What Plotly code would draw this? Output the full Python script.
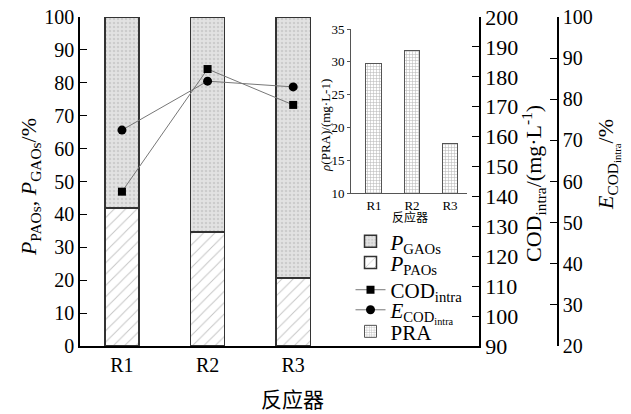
import plotly.graph_objects as go

reactors = ["R1", "R2", "R3"]
p_paos = [42.0, 34.7, 20.7]
p_gaos = [58.0, 65.3, 79.3]
cod_intra = [141.6, 182.6, 170.6]
e_cod_intra = [72.5, 84.4, 83.0]
pra = [29.8, 31.7, 17.6]

FONT = "Liberation Serif, Noto Sans CJK SC, serif"

fig = go.Figure()

fig.add_trace(go.Bar(
    x=reactors, y=p_paos, name="<i>P</i><sub>PAOs</sub>", legend="legend2",
    width=0.4,
    marker=dict(color="white", line=dict(color="#333", width=1.5),
                pattern=dict(shape="/", fgcolor="#8a8a8a", bgcolor="white", size=8, solidity=0.12)),
    xaxis="x", yaxis="y"))
fig.add_trace(go.Bar(
    x=reactors, y=p_gaos, name="<i>P</i><sub>GAOs</sub>", legend="legend",
    width=0.4,
    marker=dict(color="#dcdcdc", line=dict(color="#333", width=1.5),
                pattern=dict(shape=".", fgcolor="#b5b5b5", bgcolor="#e2e2e2", size=4, solidity=0.3)),
    xaxis="x", yaxis="y"))
fig.add_trace(go.Scatter(
    x=reactors, y=cod_intra, name="COD<sub>intra</sub>", legend="legend3",
    mode="lines+markers", line=dict(color="#777", width=1),
    marker=dict(symbol="square", size=8, color="black"),
    xaxis="x", yaxis="y2"))
fig.add_trace(go.Scatter(
    x=reactors, y=e_cod_intra, name="<i>E</i><sub>COD<sub>intra</sub></sub>", legend="legend4",
    mode="lines+markers", line=dict(color="#777", width=1),
    marker=dict(symbol="circle", size=9, color="black"),
    xaxis="x", yaxis="y3"))
fig.add_trace(go.Bar(
    x=reactors, y=pra, name="PRA", legend="legend5", width=0.42,
    marker=dict(color="white", line=dict(color="#555", width=1),
                pattern=dict(shape="+", fgcolor="#777", bgcolor="white", size=3, solidity=0.35)),
    xaxis="x4", yaxis="y4"))

def leg(y):
    return dict(x=0.5, y=y, xanchor="left", yanchor="middle",
                font=dict(size=21, family=FONT), bgcolor="rgba(0,0,0,0)",
                itemwidth=30, borderwidth=0)

fig.update_layout(
    width=631, height=414,
    margin=dict(l=80, r=10, t=17, b=68, autoexpand=False),
    paper_bgcolor="white", plot_bgcolor="rgba(0,0,0,0)",
    barmode="stack",
    font=dict(family=FONT, color="black", size=20),
    showlegend=True,
    legend=leg(0.317),
    legend2=leg(0.253),
    legend3=leg(0.170),
    legend4=leg(0.109),
    legend5=leg(0.0435),
    xaxis=dict(domain=[0, 0.7375], range=[-0.49, 4.17], type="category",
               showline=True, linecolor="black", linewidth=1.5, ticks="",
               tickfont=dict(size=20), showgrid=False, zeroline=False),
    yaxis=dict(range=[0, 100], dtick=10, showline=True, linecolor="black", linewidth=1.5,
               ticks="inside", ticklen=7, tickcolor="black", tickfont=dict(size=20),
               showgrid=False, zeroline=False),
    yaxis2=dict(range=[90, 200], dtick=10, overlaying="y", side="right", anchor="x",
                showline=True, linecolor="black", linewidth=1.5,
                ticks="inside", ticklen=7, tickcolor="black", tickfont=dict(size=22),
                showgrid=False, zeroline=False),
    yaxis3=dict(range=[20, 100], dtick=10, overlaying="y", side="right", anchor="free",
                position=0.8835, showline=True, linecolor="black", linewidth=1.5,
                ticks="inside", ticklen=7, tickcolor="black", tickfont=dict(size=20),
                showgrid=False, zeroline=False),
    xaxis4=dict(domain=[0.5009, 0.7153], anchor="y4", range=[-0.605, 2.447], type="category",
                showline=True, linecolor="#555", linewidth=1, ticks="",
                tickfont=dict(size=13), showgrid=False, zeroline=False),
    yaxis4=dict(domain=[0.465, 0.9635], anchor="x4", range=[10, 35], dtick=5,
                showline=True, linecolor="#555", linewidth=1, ticks="outside", ticklen=3,
                tickcolor="#555", tickfont=dict(size=13), showgrid=False, zeroline=False),
    annotations=[
        dict(text="反应器", xref="paper", yref="paper", x=0.3937, y=-0.164,
             showarrow=False, font=dict(size=21), xanchor="center", yanchor="middle"),
        dict(text="<i>P</i><sub>PAOs</sub>, <i>P</i><sub>GAOs</sub>/%", xref="paper", yref="paper",
             x=-0.0924, y=0.483, textangle=-90, showarrow=False, font=dict(size=22),
             xanchor="center", yanchor="middle"),
        dict(text="COD<sub>intra</sub>/(mg·L<sup>-1</sup>)", xref="paper", yref="paper",
             x=0.837, y=0.495, textangle=-90, showarrow=False, font=dict(size=22),
             xanchor="center", yanchor="middle"),
        dict(text="<i>E</i><sub>COD<sub>intra</sub></sub>/%", xref="paper", yref="paper",
             x=0.976, y=0.55, textangle=-90, showarrow=False, font=dict(size=22),
             xanchor="center", yanchor="middle"),
        dict(text="<i>ρ</i>(PRA)/(mg·L-1)", xref="paper", yref="paper",
             x=0.4547, y=0.672, textangle=-90, showarrow=False, font=dict(size=13),
             xanchor="center", yanchor="middle"),
        dict(text="反应器", xref="paper", yref="paper", x=0.61, y=0.392,
             showarrow=False, font=dict(size=12), xanchor="center", yanchor="middle"),
    ],
)

fig.write_html("out.html", config={"displayModeBar": False},
               post_script="document.body.style.margin='0';document.body.style.padding='0';")
